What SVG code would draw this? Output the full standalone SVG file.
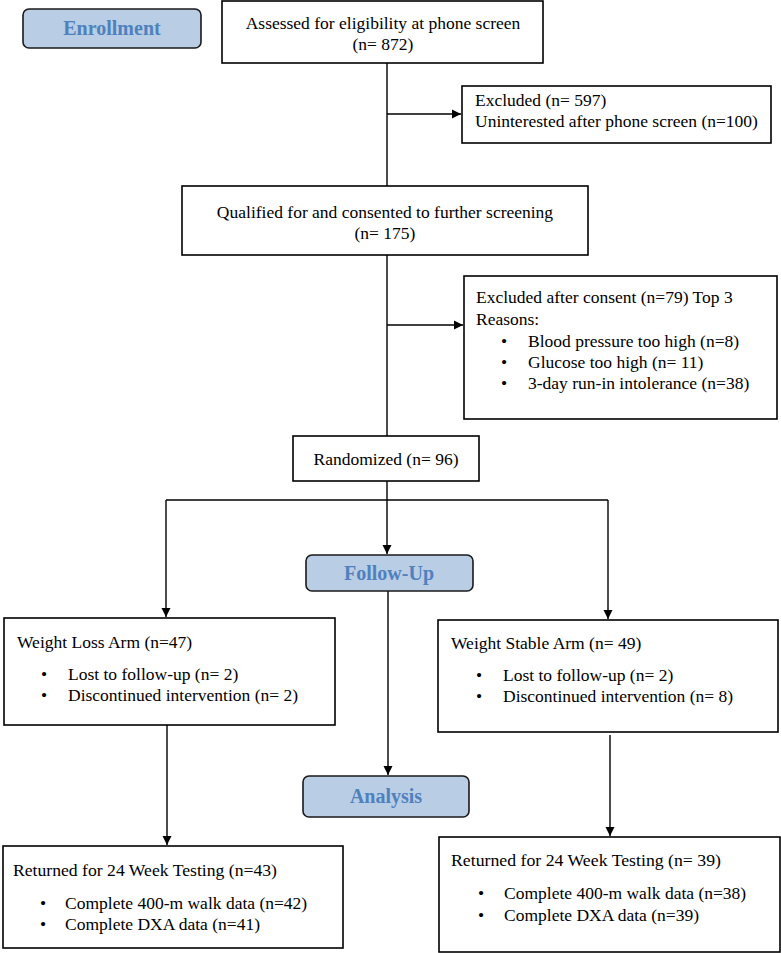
<svg xmlns="http://www.w3.org/2000/svg" width="781" height="953" viewBox="0 0 781 953">
<defs>
<style>
.box{fill:#fff;stroke:#000;stroke-width:1.6}
.phase{fill:#b9cde5;stroke:#1a1a1a;stroke-width:1.6}
.t{font-family:"Liberation Serif","Times New Roman",serif;font-size:17.5px;fill:#000}
.c{text-anchor:middle}
.ph{font-family:"Liberation Serif","Times New Roman",serif;font-size:20px;font-weight:bold;fill:#4f81bd;text-anchor:middle}
.ln{fill:none;stroke:#000;stroke-width:1.4}
</style>
<marker id="ah" markerWidth="10" markerHeight="10" refX="9" refY="5" orient="auto" markerUnits="userSpaceOnUse">
<path d="M0,0.5 L9,5 L0,9.5 Z" fill="#000"/>
</marker>
</defs>
<rect width="781" height="953" fill="#fff"/>
<g id="connectors">
<path class="ln" d="M387,63 V186"/>
<path class="ln" d="M387,114 H461" marker-end="url(#ah)"/>
<path class="ln" d="M387,255 V436"/>
<path class="ln" d="M387,325 H463" marker-end="url(#ah)"/>
<path class="ln" d="M387,481 V554" marker-end="url(#ah)"/>
<path class="ln" d="M166,500 H608"/>
<path class="ln" d="M166,500 V617" marker-end="url(#ah)"/>
<path class="ln" d="M608,500 V619" marker-end="url(#ah)"/>
<path class="ln" d="M388,591 V775" marker-end="url(#ah)"/>
<path class="ln" d="M167,725 V845" marker-end="url(#ah)"/>
<path class="ln" d="M610,735 V836" marker-end="url(#ah)"/>
</g>
<g id="enrollment">
<rect class="phase" x="23" y="9" width="178" height="39" rx="6"/>
<text class="ph" x="112" y="35">Enrollment</text>
</g>
<g id="assessed">
<rect class="box" x="222" y="1" width="321" height="62"/>
<text class="t c" x="383" y="29">Assessed for eligibility at phone screen</text>
<text class="t c" x="383" y="50">(n= 872)</text>
</g>
<g id="excluded1">
<rect class="box" x="462" y="86" width="309" height="57"/>
<text class="t" x="475" y="106">Excluded (n= 597)</text>
<text class="t" x="475" y="127">Uninterested after phone screen (n=100)</text>
</g>
<g id="qualified">
<rect class="box" x="182" y="186" width="406" height="69"/>
<text class="t c" x="385" y="218">Qualified for and consented to further screening</text>
<text class="t c" x="385" y="239">(n= 175)</text>
</g>
<g id="excluded2">
<rect class="box" x="464" y="276" width="313" height="143"/>
<text class="t" x="476" y="303">Excluded after consent (n=79) Top 3</text>
<text class="t" x="476" y="325">Reasons:</text>
<text class="t" x="501" y="347">•</text>
<text class="t" x="528" y="347">Blood pressure too high (n=8)</text>
<text class="t" x="501" y="368">•</text>
<text class="t" x="528" y="368">Glucose too high (n= 11)</text>
<text class="t" x="501" y="389">•</text>
<text class="t" x="528" y="389">3-day run-in intolerance (n=38)</text>
</g>
<g id="randomized">
<rect class="box" x="293" y="436" width="186" height="45"/>
<text class="t c" x="386" y="465">Randomized (n= 96)</text>
</g>
<g id="followup">
<rect class="phase" x="306" y="555" width="167" height="36" rx="6"/>
<text class="ph" x="389" y="580">Follow-Up</text>
</g>
<g id="weightloss">
<rect class="box" x="4" y="618" width="331" height="107"/>
<text class="t" x="17" y="648">Weight Loss Arm (n=47)</text>
<text class="t" x="41" y="680">•</text>
<text class="t" x="68" y="680">Lost to follow-up (n= 2)</text>
<text class="t" x="41" y="701">•</text>
<text class="t" x="68" y="701">Discontinued intervention (n= 2)</text>
</g>
<g id="weightstable">
<rect class="box" x="438" y="620" width="340" height="112"/>
<text class="t" x="451" y="649">Weight Stable Arm (n= 49)</text>
<text class="t" x="476" y="681">•</text>
<text class="t" x="503" y="681">Lost to follow-up (n= 2)</text>
<text class="t" x="476" y="702">•</text>
<text class="t" x="503" y="702">Discontinued intervention (n= 8)</text>
</g>
<g id="analysis">
<rect class="phase" x="303" y="776" width="166" height="41" rx="6"/>
<text class="ph" x="386" y="803">Analysis</text>
</g>
<g id="returned1">
<rect class="box" x="3" y="846" width="340" height="102"/>
<text class="t" x="13" y="876" textLength="264" lengthAdjust="spacingAndGlyphs">Returned for 24 Week Testing (n=43)</text>
<text class="t" x="40" y="909">•</text>
<text class="t" x="65" y="909">Complete 400-m walk data (n=42)</text>
<text class="t" x="40" y="930">•</text>
<text class="t" x="65" y="930">Complete DXA data (n=41)</text>
</g>
<g id="returned2">
<rect class="box" x="439" y="837" width="341" height="115"/>
<text class="t" x="451" y="866" textLength="270" lengthAdjust="spacingAndGlyphs">Returned for 24 Week Testing (n= 39)</text>
<text class="t" x="478" y="899">•</text>
<text class="t" x="504" y="899">Complete 400-m walk data (n=38)</text>
<text class="t" x="478" y="921">•</text>
<text class="t" x="504" y="921">Complete DXA data (n=39)</text>
</g>
</svg>
